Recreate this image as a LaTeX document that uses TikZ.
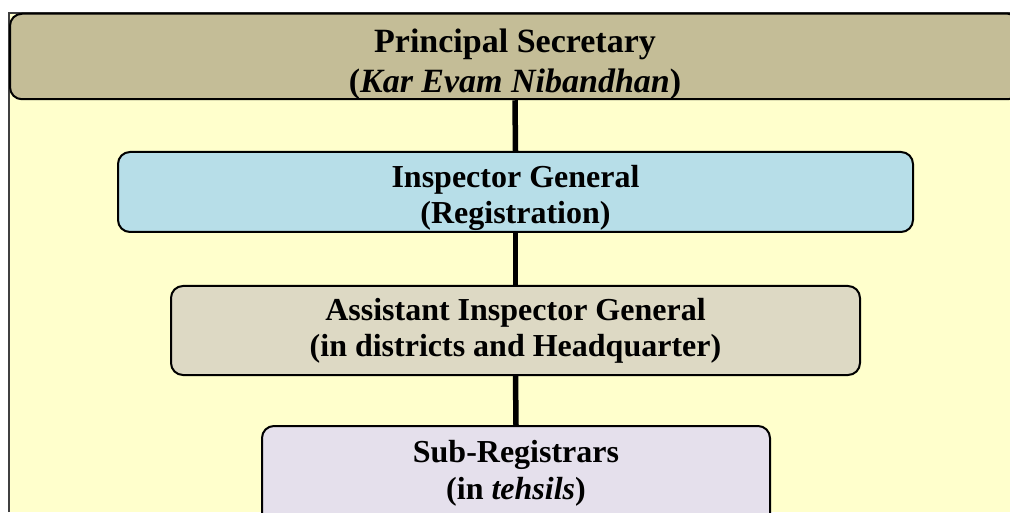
\documentclass[tikz,border=0pt]{standalone}
\usepackage{fontspec}
\setmainfont{Liberation Serif}
\definecolor{pagebg}{HTML}{FFFFCC}
\definecolor{frameline}{HTML}{404040}
\definecolor{tanfill}{HTML}{C4BD97}
\definecolor{aquafill}{HTML}{B7DEE8}
\definecolor{stonefill}{HTML}{DDD9C4}
\definecolor{lilacfill}{HTML}{E5E0EC}
\begin{document}
\begin{tikzpicture}[x=1pt,y=-1pt,
  orgbox/.style={draw=black, line width=2pt, rounded corners=12pt, inner sep=0pt},
  labeltext/.style={align=center, inner sep=0pt, font=\bfseries\fontsize{32}{36}\selectfont},
  conn/.style={draw=black, line width=5.5pt}]
  \useasboundingbox (0,0) rectangle (1010,513);
  \clip (0,0) rectangle (1010,513);
  % page background with its frame on the left and top
  \fill[pagebg] (9,13) rectangle (1015,512);
  \draw[frameline, line width=2pt] (9,512) -- (9,13) -- (1015,13);

  % boxes of the hierarchy
  \node[orgbox, fill=tanfill, minimum width=1010pt, minimum height=85.5pt]
    (ps) at (515,56.5) {};
  \node[orgbox, fill=aquafill, minimum width=795pt, minimum height=80pt]
    (ig) at (515.5,192) {};
  \node[orgbox, fill=stonefill, minimum width=689pt, minimum height=89pt]
    (aig) at (515.5,330.5) {};
  \node[orgbox, fill=lilacfill, minimum width=508pt, minimum height=120pt]
    (sr) at (516,486) {};

  % titles of the boxes
  \node[labeltext, font=\bfseries\fontsize{34}{40}\selectfont]
    (pstext) at (515,64.5) {Principal Secretary\\(\textit{Kar Evam Nibandhan})};
  \node[labeltext] (igtext) at (515.5,197.5) {Inspector General\\(Registration)};
  \node[labeltext] (aigtext) at (515.5,330.5) {Assistant Inspector General\\(in districts and Headquarter)};
  \node[labeltext, font=\bfseries\fontsize{32}{37}\selectfont]
    (srtext) at (516,473) {Sub-Registrars\\(in \textit{tehsils})};

  % reporting lines
  \draw[conn] (ps.south) -- (ig.north);
  \draw[conn] (ig.south) -- (aig.north);
  \draw[conn] (aig.south) -- (sr.north);
\end{tikzpicture}
\end{document}
